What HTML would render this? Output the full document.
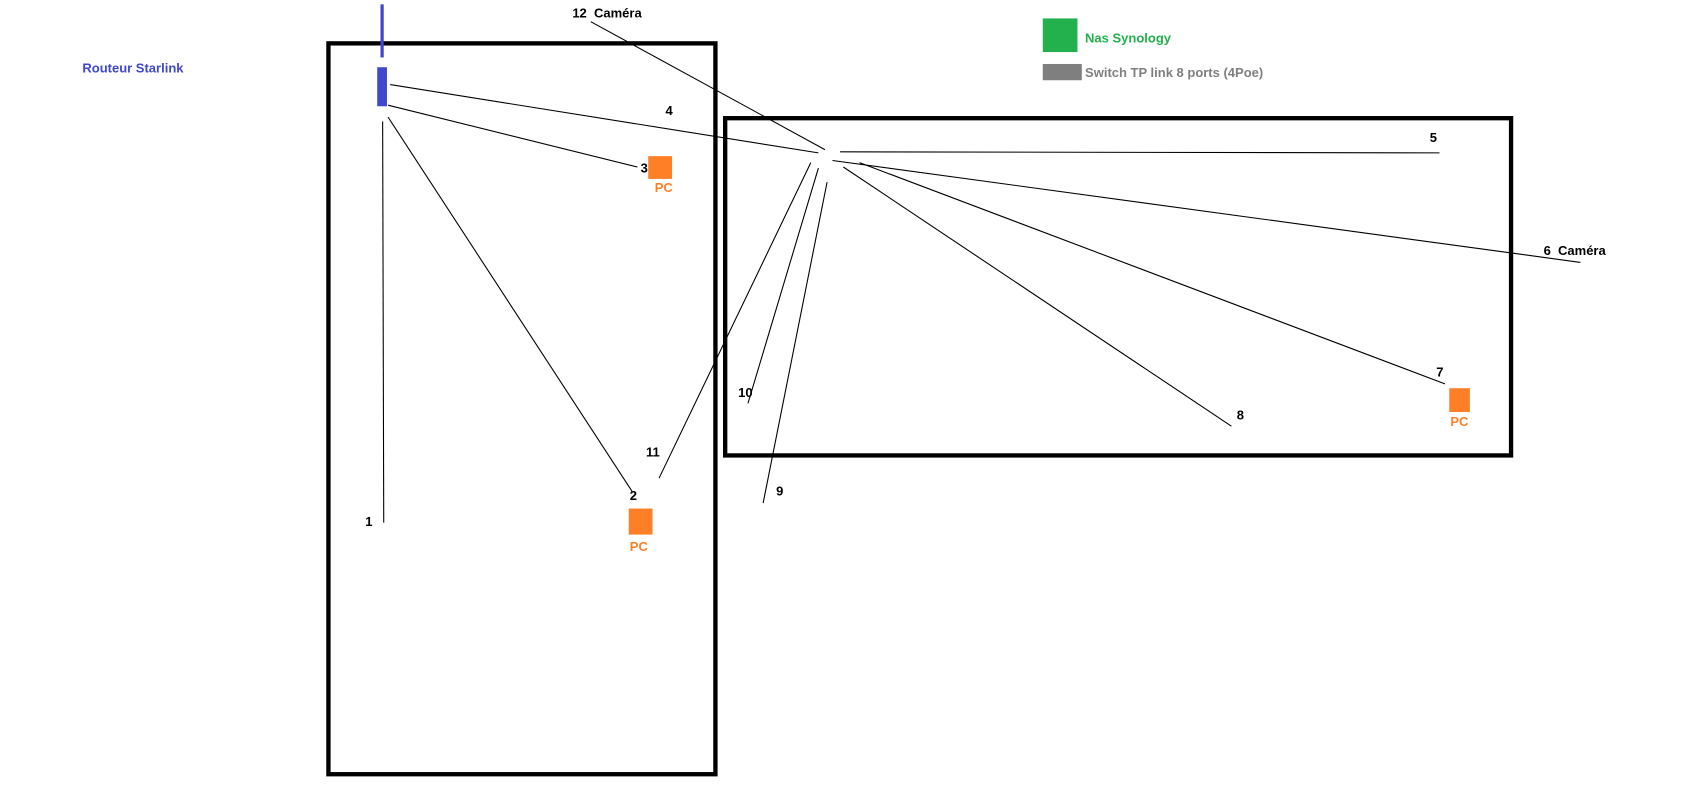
<!DOCTYPE html>
<html><head><meta charset="utf-8"><style>
html,body{margin:0;padding:0;background:#fff;width:1691px;height:797px;overflow:hidden}
svg{display:block}
text{font-family:"Liberation Sans",Arial,sans-serif;font-weight:bold;font-size:12px;white-space:pre}
</style></head><body>
<svg width="1691" height="797" viewBox="2 0 1560 735" preserveAspectRatio="none">
<rect x="0" y="0" width="1600" height="735" fill="#fff"/>
<rect x="305" y="40" width="357" height="674" fill="none" stroke="#000" stroke-width="4"/>
<rect x="671" y="109" width="725" height="311" fill="none" stroke="#000" stroke-width="4"/>
<line x1="354.5" y1="4" x2="354.5" y2="53" stroke="#3f48cc" stroke-width="3"/>
<rect x="350" y="62" width="9" height="36" fill="#3f48cc"/>
<text x="78" y="67" fill="#3f48cc">Routeur Starlink</text>
<text x="530" y="16" fill="#000">12&#160;&#160;Caméra</text>
<rect x="964" y="17" width="32" height="31" fill="#22b14c"/>
<text x="1003" y="39" fill="#22b14c">Nas Synology</text>
<rect x="964" y="59" width="36" height="15" fill="#7f7f7f"/>
<text x="1003" y="71" fill="#7f7f7f">Switch TP link 8 ports (4Poe)</text>
<g stroke="#000" stroke-width="1" fill="none">
<line x1="547" y1="20" x2="763" y2="138"/>
<line x1="362" y1="78" x2="757" y2="141"/>
<line x1="360" y1="97" x2="590" y2="154"/>
<line x1="360" y1="108" x2="585" y2="453"/>
<line x1="355" y1="112" x2="356" y2="482"/>
<line x1="610" y1="441" x2="750" y2="150"/>
<line x1="692" y1="372" x2="757" y2="155"/>
<line x1="706" y1="464" x2="765" y2="168"/>
<line x1="777" y1="140" x2="1330" y2="141"/>
<line x1="770" y1="148" x2="1460" y2="242"/>
<line x1="795" y1="150" x2="1335" y2="354"/>
<line x1="780" y1="154" x2="1138" y2="393"/>
</g>
<rect x="600" y="144" width="22" height="21" fill="#ff7f27"/>
<rect x="582" y="469" width="22" height="24" fill="#ff7f27"/>
<rect x="1339" y="358" width="19" height="22" fill="#ff7f27"/>
<g fill="#ff7f27"><text x="606" y="177">PC</text><text x="583" y="508">PC</text><text x="1340" y="393">PC</text></g>
<g fill="#000">
<text x="616" y="106">4</text>
<text x="593" y="159">3</text>
<text x="583" y="461">2</text>
<text x="339" y="485">1</text>
<text x="598" y="421">11</text>
<text x="683" y="366">10</text>
<text x="718" y="457">9</text>
<text x="1321" y="131">5</text>
<text x="1426" y="235">6&#160;&#160;Caméra</text>
<text x="1327" y="347">7</text>
<text x="1143" y="387">8</text>
</g>
</svg>
</body></html>
